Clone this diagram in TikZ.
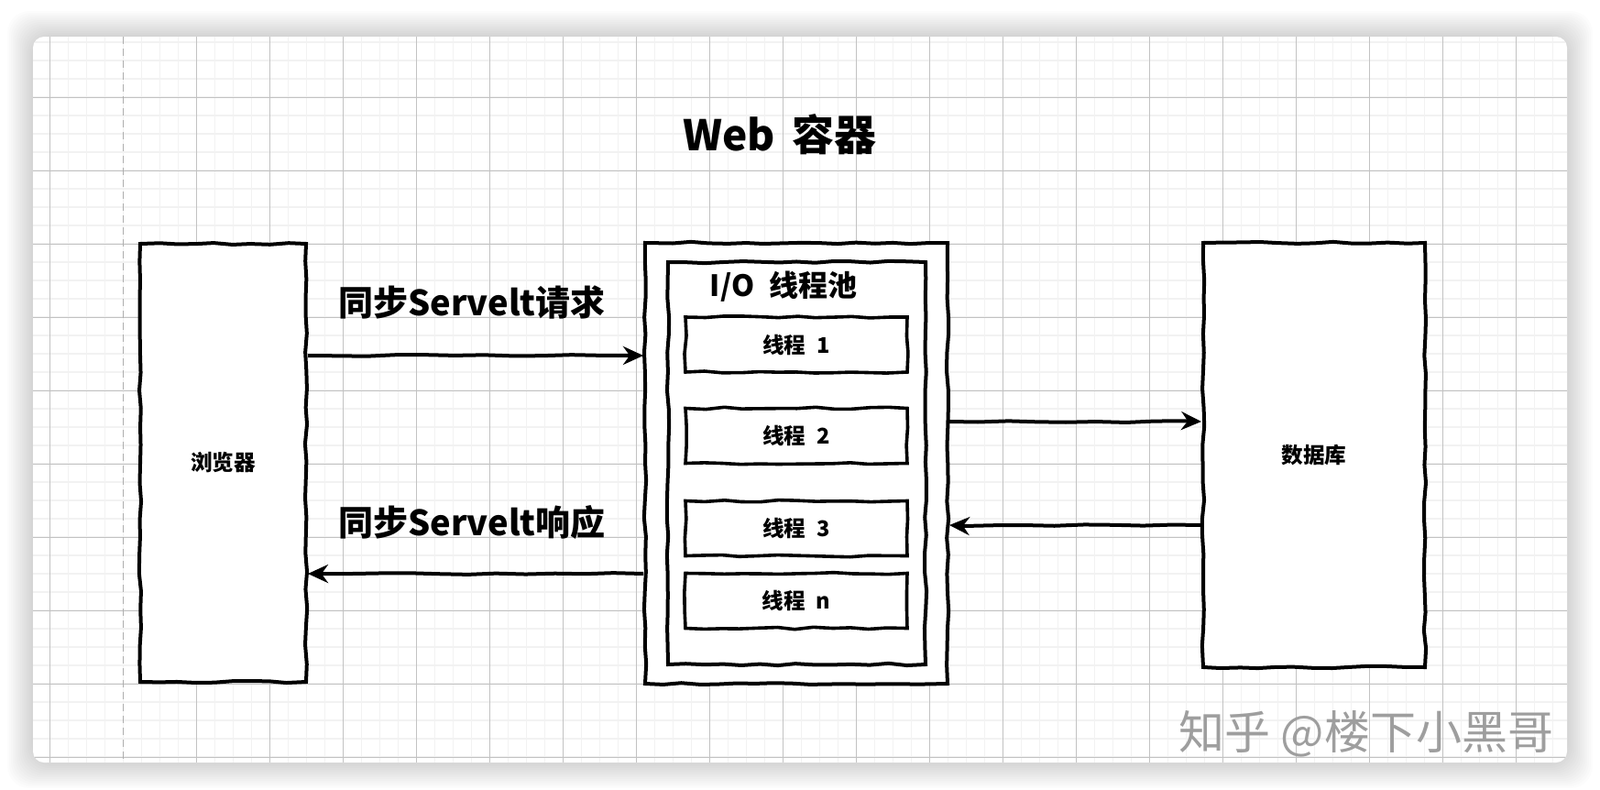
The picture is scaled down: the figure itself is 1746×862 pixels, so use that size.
\documentclass[tikz,border=0pt]{standalone}
\usepackage{fontspec}
\setmainfont{Noto Sans CJK SC}
\usetikzlibrary{arrows.meta,decorations.pathmorphing,positioning}
\begin{document}
\begin{tikzpicture}[x=0.5pt,y=-0.5pt]
	\tikzset{sketch/.style={draw,line width=2pt,fill=white,inner sep=0pt,decorate,decoration={random steps,segment length=10pt,amplitude=0.6pt}},
		bx/.style={sketch,minimum width=#1},
		arr/.style={line width=2pt,-{Stealth[length=11pt,width=10pt]},decorate,decoration={random steps,segment length=16pt,amplitude=0.5pt}},
		lbl/.style={font=\bfseries\fontsize{19}{22}\selectfont},
		small/.style={font=\bfseries\fontsize{11.8}{14}\selectfont}}
	\useasboundingbox (0,0) rectangle (1746,862);
	\fill[white] (0,0) rectangle (1746,862);
	\foreach \i in {1,...,14}
		\fill[black,opacity=0.011,rounded corners=12pt] ({36-2*\i},{40-2*\i}) rectangle ({1710+2*\i},{832+2*\i});
	\fill[white,rounded corners=6pt] (36,40) rectangle (1710,832);
	\begin{scope}
		\clip[rounded corners=6pt] (36,40) rectangle (1710,832);
		\foreach \x in {34.7,54.7,...,1710} \draw[black!5,line width=0.6pt] (\x,40) -- (\x,832);
		\foreach \y in {46,66,...,832} \draw[black!5,line width=0.6pt] (36,\y) -- (1710,\y);
		\foreach \x in {54.7,214.7,294.7,...,1710} \draw[black!24,line width=0.5pt] (\x,40) -- (\x,832);
		\foreach \y in {106,186,...,832} \draw[black!24,line width=0.5pt] (36,\y) -- (1710,\y);
		\draw[black!32,line width=0.6pt,dash pattern=on 4pt off 2.5pt] (134.7,40) -- (134.7,832);
	\end{scope}
	\node[font=\bfseries\fontsize{23}{28}\selectfont] (title) at (851,147) {Web\hspace{.4em}容器};
	\node[bx=90.5pt,minimum height=239pt,small] (browser) at (243.5,505) {浏览器};
	\node[bx=165pt,minimum height=240.5pt] (web) at (869,505.5) {};
	\node[bx=140.5pt,minimum height=219.5pt] (pool) at (869.5,505.5) {};
	\node[font=\bfseries\fontsize{16}{19}\selectfont] (pooltitle) at (855,313) {I/O\hspace{.5em}线程池};
	\foreach \n/\y in {1/376,2/475.5,3/576.5,n/655.5}
		\node[bx=121pt,minimum height=30pt,line width=1.8pt,small] (t\n) at (869,\y) {线程\hspace{.5em}\n};
	\node[bx=121pt,minimum height=231.5pt,small] (db) at (1434,496.5) {数据库};
	\coordinate (req) at (0,388);
	\coordinate (resp) at (0,626);
	\coordinate (qry) at (0,460);
	\coordinate (res) at (0,573);
	\draw[arr] (browser.east|-req) -- (web.west|-req);
	\draw[arr] (web.west|-resp) -- (browser.east|-resp);
	\draw[arr] (web.east|-qry) -- (db.west|-qry);
	\draw[arr] (db.west|-res) -- (web.east|-res);
	\node[lbl] (reqlbl) at (515,330) {同步Servelt请求};
	\node[lbl] (resplbl) at (515,570) {同步Servelt响应};
	\node[text=black!38,font=\fontsize{25}{30}\selectfont] (mark) at (1491,801) {知乎 @楼下小黑哥};
\end{tikzpicture}
\end{document}
